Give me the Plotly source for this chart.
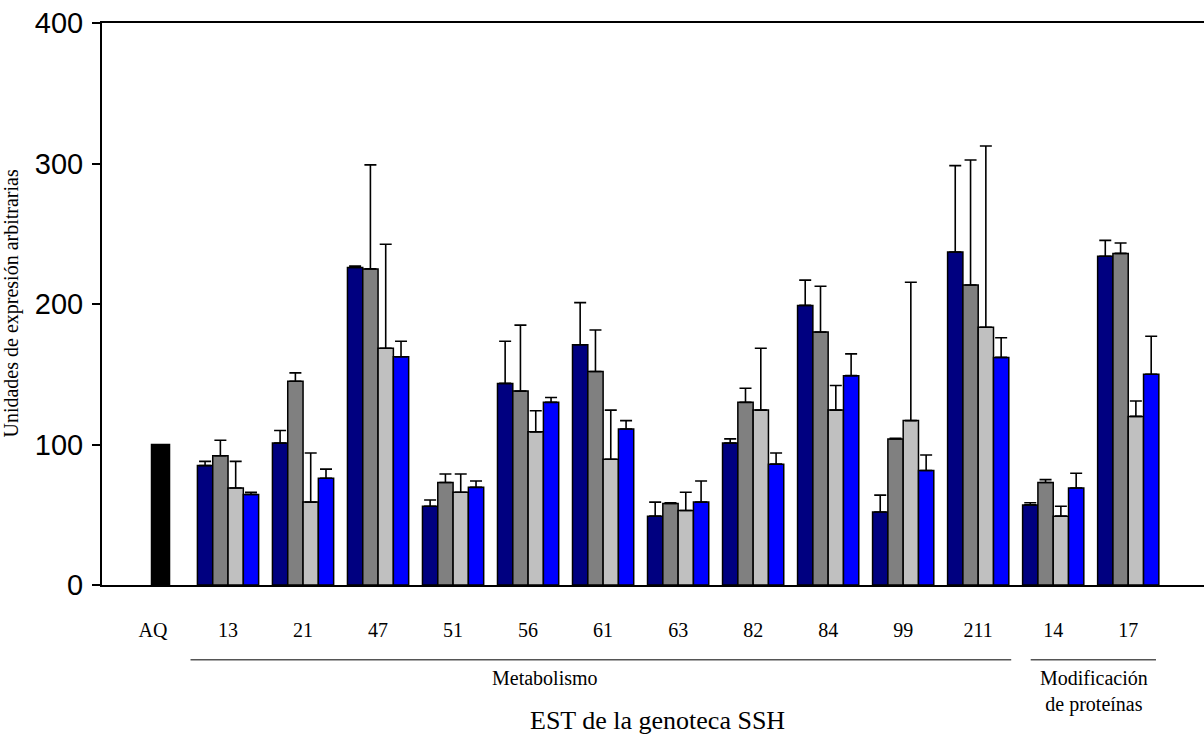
import plotly.graph_objects as go

# Categories (EST clones) and the reference sample
ref_label = "AQ"
ref_value = 100
clones = ["13", "21", "47", "51", "56", "61", "63", "82", "84", "99", "211", "14", "17"]

# Mean expression (arbitrary units) for each of the four conditions
serie_1 = [85, 101, 226, 56, 143.5, 171, 49, 101, 199, 52, 237, 57, 234]
serie_2 = [92, 145, 225, 73, 138, 152, 58, 130, 180, 104, 213.5, 73, 236]
serie_3 = [69, 59, 168.5, 66, 109, 89.5, 53, 124.5, 124.5, 117, 183.5, 49, 120]
serie_4 = [64.5, 76, 162.5, 69.5, 130, 111, 59, 86, 149, 81.5, 162, 69, 150]

# Upper error (standard deviation)
err_1 = [3, 9, 1, 4.5, 30, 30, 10, 3, 18, 12, 61.5, 1.5, 11.3]
err_2 = [11, 6, 74, 6, 47, 29.5, 0.5, 10, 32.6, 0.5, 89, 2, 7.4]
err_3 = [19, 35, 74, 13, 15, 35, 13, 44, 17.5, 98.5, 129, 7, 11]
err_4 = [1.5, 6.5, 11, 4.5, 3.5, 6, 15, 8, 15.5, 11, 14, 10.5, 27]

y_ticks = [0, 100, 200, 300, 400]

colors = ["#000080", "#808080", "#C0C0C0", "#0000FF"]
series = [serie_1, serie_2, serie_3, serie_4]
errors = [err_1, err_2, err_3, err_4]

positions = list(range(1, len(clones) + 1))
bar_w = 0.204

SERIF = "Liberation Serif"
SANS = "Liberation Sans"

fig = go.Figure()

fig.add_trace(go.Bar(
    x=[0], y=[ref_value], width=[0.24], offset=-0.02,
    marker=dict(color="#000000", line=dict(color="#000000", width=1.5)),
    showlegend=False, hoverinfo="y",
))

for k, (vals, errs, col) in enumerate(zip(series, errors, colors)):
    fig.add_trace(go.Bar(
        x=positions, y=vals, width=bar_w, offset=(k - 2) * bar_w,
        marker=dict(color=col, line=dict(color="#000000", width=1.5)),
        error_y=dict(type="data", symmetric=False, array=errs,
                     arrayminus=[0] * len(errs), color="#000000",
                     thickness=1.6, width=6),
        showlegend=False, hoverinfo="y",
    ))

fig.update_layout(
    width=1204, height=747,
    margin=dict(l=102, r=0, t=23, b=162),
    plot_bgcolor="white", paper_bgcolor="white",
    font=dict(family=SERIF, color="#000000"),
    barmode="overlay",
    showlegend=False,
    xaxis=dict(
        range=[-0.68, 14.01],
        tickmode="array", tickvals=[0] + positions,
        ticktext=[ref_label] + clones,
        ticks="", showgrid=False, zeroline=False,
        showline=True, linecolor="#000000", linewidth=2, mirror=True,
        tickfont=dict(family=SERIF, size=20, color="#000000"),
        ticklabelstandoff=26,
    ),
    yaxis=dict(
        range=[0, 400], tickvals=y_ticks,
        ticks="outside", ticklen=8, tickwidth=2, tickcolor="#000000",
        showgrid=False, zeroline=False,
        showline=True, linecolor="#000000", linewidth=2,
        tickfont=dict(family=SANS, size=29, color="#000000"),
        ticklabelstandoff=3,
    ),
)

# Rotated y-axis title
fig.add_annotation(
    text="Unidades de expresión arbitrarias", xref="paper", yref="paper",
    x=-0.083, y=0.5, xanchor="center", yanchor="middle",
    textangle=-90, showarrow=False,
    font=dict(family=SERIF, size=20, color="#000000"),
)

# Functional group brackets under the tick labels
fig.add_shape(type="line", xref="x", yref="paper",
              x0=0.5, x1=11.44, y0=-0.133, y1=-0.133,
              line=dict(color="#555555", width=1.5))
fig.add_shape(type="line", xref="x", yref="paper",
              x0=11.7, x1=13.37, y0=-0.133, y1=-0.133,
              line=dict(color="#555555", width=1.5))

fig.add_annotation(
    text="Metabolismo", xref="x", yref="paper",
    x=5.22, y=-0.142, xanchor="center", yanchor="top", showarrow=False,
    font=dict(family=SERIF, size=20, color="#000000"),
)
fig.add_annotation(
    text="Modificación<br>de proteínas", xref="x", yref="paper",
    x=12.54, y=-0.142, xanchor="center", yanchor="top", showarrow=False,
    font=dict(family=SERIF, size=20, color="#000000"),
)

# x-axis title
fig.add_annotation(
    text="EST de la genoteca SSH", xref="x", yref="paper",
    x=6.72, y=-0.212, xanchor="center", yanchor="top", showarrow=False,
    font=dict(family=SERIF, size=26, color="#000000"),
)

fig.write_html("out.html")
